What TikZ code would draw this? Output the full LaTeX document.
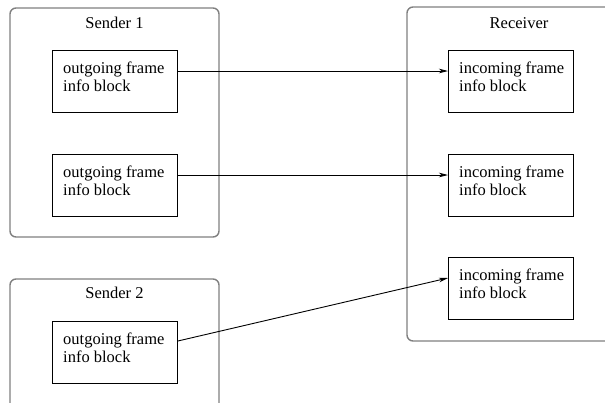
\documentclass[tikz,border=0pt]{standalone}
\usepackage{fontspec}
\setmainfont{Liberation Serif}
\usetikzlibrary{arrows.meta,calc}
\begin{document}
\begin{tikzpicture}[x=1pt,y=-1pt,
  every node/.style={font=\fontsize{16.5}{18}\selectfont},
  group/.style={draw=black!50,line width=1.4pt,rounded corners=6pt},
  block/.style={draw=black,line width=0.9pt,minimum width=125pt,minimum height=62pt,inner sep=0pt,anchor=north west},
  btext/.style={anchor=north west,inner sep=0pt,align=left},
  title/.style={anchor=base,inner sep=0pt},
  arr/.style={draw=black,line width=0.9pt,-{Stealth[length=9pt,width=4.5pt,inset=2.5pt]}}]
\clip (0,0) rectangle (605,402);
\useasboundingbox (0,0) rectangle (605,402);
% groups
\draw[group] (10,8) rectangle (219,237);
\draw[group] (10,279) rectangle (219,440);
\draw[group] (407,7) rectangle (631,341);
\node[title] (s1) at (114.5,28.3) {Sender 1};
\node[title] (s2) at (114.5,298.3) {Sender 2};
\node[title] (rc) at (519,28.3) {Receiver};
% blocks
\node[block] (o1) at (52,50) {};
\node[block] (o2) at (52,154) {};
\node[block] (o3) at (52,321) {};
\node[block] (i1) at (448,50) {};
\node[block] (i2) at (448,154) {};
\node[block] (i3) at (448,257) {};
\foreach \n in {o1,o2,o3}{
  \node[btext] (\n t) at ($(\n.north west)+(11,11.4)$) {outgoing frame\\info block};
}
\foreach \n in {i1,i2,i3}{
  \node[btext] (\n t) at ($(\n.north west)+(11,11.4)$) {incoming frame\\info block};
}
% connectors
\draw[arr] ([yshift=-21pt]o1.north east) -- ([yshift=-21pt]i1.north west);
\draw[arr] ([yshift=-21pt]o2.north east) -- ([yshift=-21pt]i2.north west);
\draw[arr] ([yshift=-20pt]o3.north east) -- ([yshift=-21pt]i3.north west);
\end{tikzpicture}
\end{document}
